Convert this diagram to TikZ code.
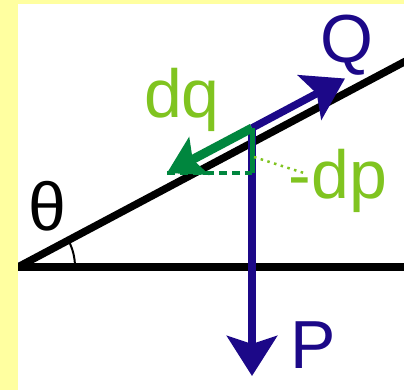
\documentclass[tikz,border=0pt]{standalone}
\usepackage{fontspec}
\setmainfont{Liberation Sans}
\usetikzlibrary{arrows.meta}
\definecolor{framebg}{RGB}{255,255,160}
\definecolor{forceblue}{RGB}{28,8,136}
\definecolor{compgreen}{RGB}{0,134,62}
\definecolor{labelgreen}{RGB}{128,196,32}

\begin{document}
\begin{tikzpicture}[x=1pt,y=-1pt]
\tikzset{
  txtlabel/.style={inner sep=0pt,anchor=base,font=\fontsize{68}{68}\selectfont},
  groundline/.style={draw=black,line width=7.5pt},
  forcevec/.style={draw=forceblue,line width=7.5pt,-{Stealth[length=40pt,width=50pt,inset=8pt]}},
  compvec/.style={draw=compgreen,line width=9pt,-{Stealth[length=36pt,width=42pt,inset=7pt]}},
  compline/.style={draw=compgreen,line width=5pt},
  compdash/.style={draw=compgreen,line width=3.5pt,dash pattern=on 8pt off 5pt},
  tagline/.style={draw=labelgreen,line width=2.5pt,dash pattern=on 2.5pt off 4.5pt}
}
\useasboundingbox (0,0) rectangle (404,390);
\fill[framebg] (0,0) rectangle (404,390);
\fill[white] (18,4) rectangle (404,390);
% points of the slope
\coordinate (O) at (18,267);
\coordinate (R) at (420,267);
\coordinate (S) at (420,53.5);
\coordinate (A) at (252,128);
\coordinate (Qtip) at (345,78.5);
\coordinate (Ptip) at (252,376);
\coordinate (dqtip) at (167,173);
\coordinate (dpfoot) at (252,173);
\coordinate (dpmid) at (254,157);
\coordinate (dptag) at (307,174);
\begin{scope}
\clip (18,4) rectangle (404,390);
\draw[groundline] (O) -- (R);
\draw[groundline] (O) -- (S);
\end{scope}
\draw[line width=2pt] (O) ++(57pt,0) arc[start angle=0,end angle=28,radius=57pt];
% forces
\draw[forcevec] (A) -- (Ptip);
\draw[forcevec] (A) -- (Qtip);
% small displacement
\draw[compdash] (dqtip) -- (dpfoot);
\draw[compline] (A) -- (dpfoot);
\draw[compvec] (A) -- (dqtip);
\draw[tagline] (dpmid) -- (dptag);
% labels
\node[txtlabel,text=forceblue] (n_Q) at (347,63) {Q};
\node[txtlabel,text=forceblue] (n_P) at (313,368) {P};
\node[txtlabel,text=labelgreen] (n_dq) at (182,118) {dq};
\node[txtlabel,text=labelgreen] (n_dp) at (338,198) {-dp};
\node[txtlabel] (n_theta) at (47,230) {θ};
\end{tikzpicture}
\end{document}
